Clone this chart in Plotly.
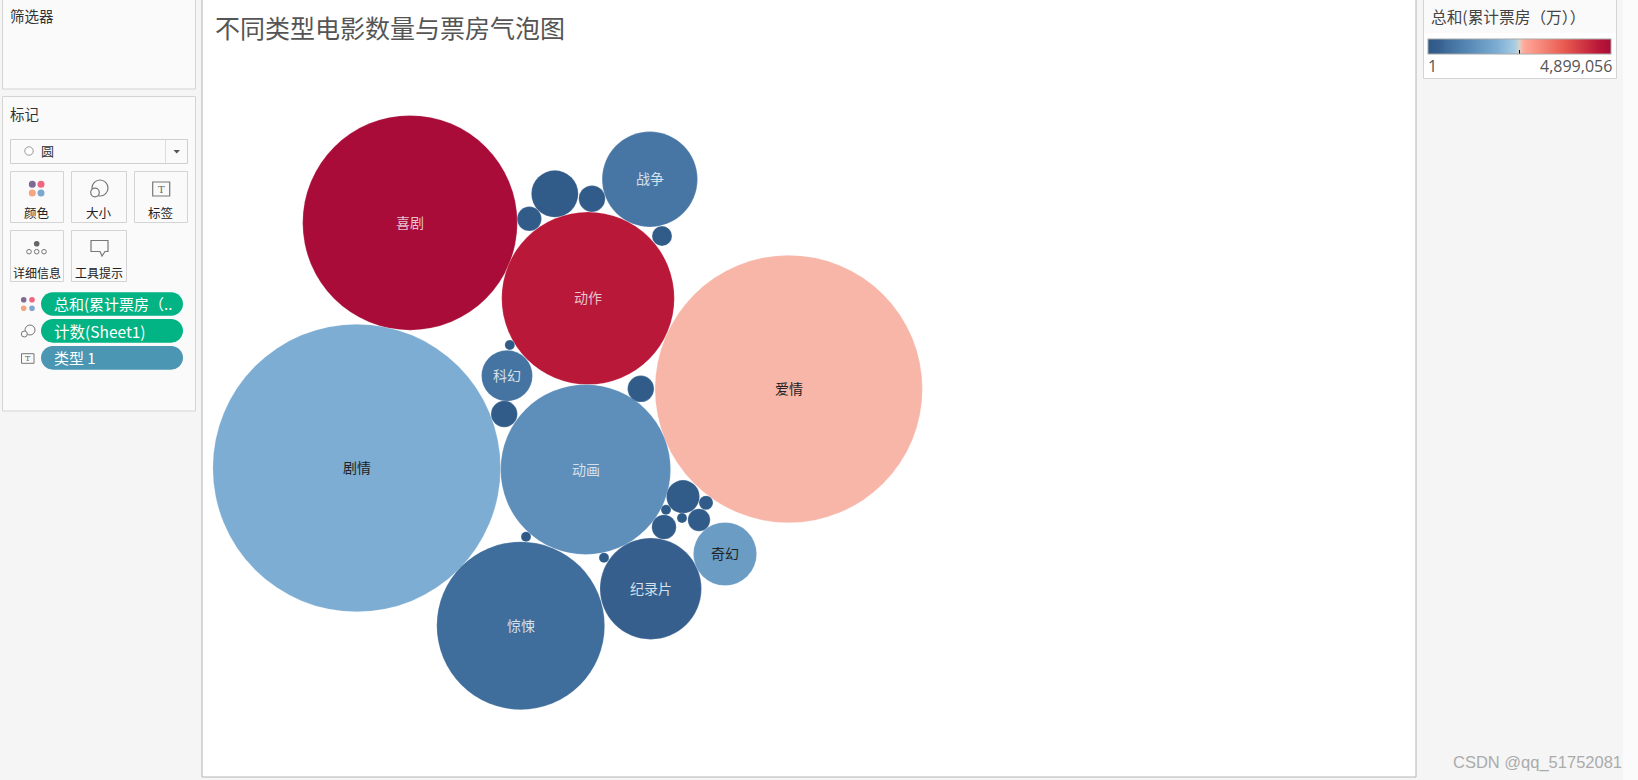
import plotly.graph_objects as go

# ---------- data ----------
genres = ["剧情", "爱情", "喜剧", "动作", "动画", "惊悚", "纪录片", "战争", "奇幻", "科幻",
          "", "", "", "", "", "", "", "", "", "", "", "", "", "", ""]
film_counts = [828, 715, 461, 298, 289, 282, 103, 91, 40, 26,
               22, 11, 7, 7, 7, 6, 6, 5, 4, 2, 1, 1, 1, 1, 1]
box_office = [1860000, 2520000, 4899056, 4550000, 1225000, 490000, 294000, 686000, 1470000, 640000,
              98000, 98000, 98000, 98000, 98000, 98000, 98000, 98000, 98000, 98000, 60000, 30000, 20000, 10000, 1]
bubble_x = [356.7, 788.7, 410.0, 588.0, 585.6, 520.7, 650.7, 649.8, 725.0, 507.0,
            554.8, 683.0, 592.0, 504.2, 640.8, 664.0, 529.3, 699.0, 662.0, 706.0, 509.8, 604.0, 526.0, 682.0, 666.0]
bubble_y = [468.0, 389.0, 222.8, 298.3, 469.5, 625.7, 588.7, 179.3, 554.0, 375.8,
            193.8, 496.7, 198.7, 414.0, 388.8, 527.0, 218.8, 520.0, 236.0, 502.8, 345.0, 557.8, 536.8, 518.0, 509.8]
label_colors = ["#222222", "#222222", "#E8C4CE", "#E8C4CE", "#D5E0EA", "#D5E0EA", "#D5E0EA", "#D5E0EA", "#222222", "#D5E0EA"]
value_min, value_max = 1, 4899056
legend_title = "总和(累计票房（万））"
chart_title = "不同类型电影数量与票房气泡图"
watermark = "CSDN @qq_51752081"

CJK = "Noto Sans CJK SC"
colorscale = [
    [0.00, "#2E5A87"], [0.06, "#365F8D"], [0.10, "#3F6E9C"], [0.14, "#4776A4"],
    [0.25, "#5E8FBB"], [0.30, "#6A9CC4"], [0.38, "#7DADD3"], [0.47, "#A5CBE3"],
    [0.50, "#D5D3CB"], [0.515, "#F9B5A8"], [0.53, "#FFA797"], [0.75, "#E8584F"],
    [0.93, "#BA1838"], [1.00, "#A90C38"],
]

shapes, annots = [], []


def rect(x0, y0, x1, y1, fill="rgba(0,0,0,0)", line="#D4D4D4", w=1):
    shapes.append(dict(type="rect", x0=x0, y0=y0, x1=x1, y1=y1, fillcolor=fill,
                       line=dict(color=line, width=w), layer="below"))


def circ(cx, cy, r, fill="rgba(0,0,0,0)", line="rgba(0,0,0,0)", w=1):
    shapes.append(dict(type="circle", x0=cx - r, y0=cy - r, x1=cx + r, y1=cy + r, fillcolor=fill,
                       line=dict(color=line, width=w), layer="below"))


def pill(x0, y0, x1, y1, fill):
    r = (y1 - y0) / 2
    k = r * 0.5523
    ym = (y0 + y1) / 2
    shapes.append(dict(type="path", fillcolor=fill, line=dict(width=0), layer="below",
                       path=(f"M{x0+r},{y0} L{x1-r},{y0} "
                             f"C{x1-r+k},{y0} {x1},{ym-k} {x1},{ym} "
                             f"C{x1},{ym+k} {x1-r+k},{y1} {x1-r},{y1} "
                             f"L{x0+r},{y1} "
                             f"C{x0+r-k},{y1} {x0},{ym+k} {x0},{ym} "
                             f"C{x0},{ym-k} {x0+r-k},{y0} {x0+r},{y0} Z")))


def text(x, y, s, size=13, color="#333333", anchor="left", family=CJK):
    annots.append(dict(x=x, y=y, text=s, showarrow=False, xanchor=anchor, yanchor="middle",
                       font=dict(family=family, size=size, color=color), xref="x", yref="y",
                       borderpad=0, borderwidth=0))


def color_dots(cx0, cx1, cy0, cy1, r):
    for cx, cy, c in [(cx0, cy0, "#7F6A93"), (cx1, cy0, "#F0657F"), (cx0, cy1, "#F4A582"), (cx1, cy1, "#7FA6D0")]:
        circ(cx, cy, r, fill=c)


# background strips and main canvas
rect(1623, -2, 1640, 782, fill="#FBFBFB", line="rgba(0,0,0,0)", w=0)
rect(202, -2, 1416, 777, fill="#FFFFFF", line="#B4B4B4", w=1)

# filter card
rect(2.5, -3, 195.5, 89, fill="#FAFAFA")
text(10, 15.5, "筛选器", 14.5)

# marks card
rect(2.5, 96.5, 195.5, 411, fill="#FAFAFA")
text(10, 113.5, "标记", 14.5)
rect(10.5, 139.5, 187.5, 163.5, fill="#FAFAFA", line="#CFCFCF")
shapes.append(dict(type="line", x0=165.5, x1=165.5, y0=140, y1=163, line=dict(color="#DDDDDD", width=1), layer="below"))
shapes.append(dict(type="path", path="M173.5,150 L180,150 L176.7,153.5 Z", fillcolor="#555555", line=dict(width=0), layer="below"))
circ(29, 151, 4.2, fill="#FFFFFF", line="#999999")
text(41, 150.5, "圆", 13)

for x0, x1, y0, y1 in [(10.5, 63.5, 171.5, 222.5), (71.5, 126.5, 171.5, 222.5), (134.5, 187.5, 171.5, 222.5),
                       (10.5, 63.5, 230.5, 281.5), (71.5, 126.5, 230.5, 281.5)]:
    rect(x0, y0, x1, y1, fill="#FAFAFA")

# button icons
color_dots(32.3, 41, 184.3, 193, 3.5)
circ(100, 188, 8, fill="#FAFAFA", line="#777777", w=1.2)
circ(95, 192.5, 4.3, fill="#FAFAFA", line="#777777", w=1.2)
rect(152.7, 182, 169.7, 196, fill="#FAFAFA", line="#777777", w=1.2)
text(161.2, 189, "T", 10, "#666666", "center", "DejaVu Serif")
circ(36.7, 243.7, 2.8, fill="#666666")
for cx in (29, 36.7, 44):
    circ(cx, 251.7, 2.3, fill="#FAFAFA", line="#777777")
shapes.append(dict(type="path", layer="below", fillcolor="#FAFAFA", line=dict(color="#777777", width=1.2),
                   path="M91,240.5 L108,240.5 L108,251.5 L105,251.5 L102,256 L100,251.5 L91,251.5 Z"))

text(37, 212.5, "颜色", 12.5, "#222222", "center")
text(99, 212.5, "大小", 12.5, "#222222", "center")
text(161, 212.5, "标签", 12.5, "#222222", "center")
text(37, 272, "详细信息", 12, "#222222", "center")
text(99, 272, "工具提示", 12, "#222222", "center")

# shelf pills
pill(41, 292.3, 183, 315.7, "#02B384")
pill(41, 319, 183, 342.7, "#02B384")
pill(41, 346, 183, 369.7, "#4A96B3")
text(54, 303.5, "总和(累计票房（..", 15, "#FFFFFF")
text(54, 330.5, "计数(Sheet1)", 15.5, "#FFFFFF")
text(54, 357.5, "类型 1", 15, "#FFFFFF")
color_dots(23.7, 32, 299.7, 308.3, 2.8)
circ(30, 330, 5, fill="#FAFAFA", line="#777777")
circ(24.3, 334, 3, fill="#FAFAFA", line="#777777")
rect(21.5, 353.7, 34, 363.3, fill="#FAFAFA", line="#777777")
text(27.7, 358.5, "T", 8, "#666666", "center", "DejaVu Serif")

# title
text(215, 27, chart_title, 25, "#555555")

# legend card
rect(1423.5, -3, 1616.5, 78.5, fill="#FAFAFA")
rect(1424, 33, 1616, 78, fill="#FFFFFF", line="rgba(0,0,0,0)", w=0)
text(1431, 16, legend_title, 15.7, "#444444")
text(1428, 65.5, f"{value_min}", 16, "#555555", "left", "Open Sans")
text(1611.5, 65.5, f"{value_max:,}", 16, "#555555", "right", "Open Sans")

# watermark
text(1622, 762, watermark, 16.5, "#ABABAB", "right", "Liberation Sans")

# bubble labels, read from the same arrays as the bubbles
for gx, gy, name, col in zip(bubble_x, bubble_y, genres, label_colors):
    annots.append(dict(x=gx, y=gy, text=name, showarrow=False, xanchor="center", yanchor="middle", yshift=1,
                       font=dict(family=CJK, size=14, color=col), xref="x", yref="y"))

fig = go.Figure(go.Scatter(
    x=bubble_x, y=bubble_y, mode="markers",
    hoverinfo="skip", cliponaxis=False,
    marker=dict(
        size=film_counts, sizemode="area", sizeref=0.02, opacity=1,
        color=box_office, cmin=value_min, cmax=value_max, colorscale=colorscale,
        line=dict(color="rgba(255,255,255,0.18)", width=1),
        colorbar=dict(
            orientation="h", thickness=15, thicknessmode="pixels",
            len=183.4, lenmode="pixels", x=1519 / 1638, xanchor="center",
            y=1 - 58.8 / 780, yanchor="bottom", xpad=0, ypad=0,
            outlinecolor="#A8A8A8", outlinewidth=1, borderwidth=0,
            tickmode="array", tickvals=[(value_min + value_max) / 2], ticktext=[""],
            ticks="inside", ticklen=4, tickcolor="#000000", tickwidth=1, showticklabels=False,
        ),
    ),
))

fig.update_layout(
    width=1638, height=780, autosize=False,
    margin=dict(l=0, r=0, t=0, b=0, pad=0),
    paper_bgcolor="#F5F5F5", plot_bgcolor="rgba(0,0,0,0)",
    showlegend=False, hovermode=False,
    xaxis=dict(range=[0, 1638], visible=False, fixedrange=True),
    yaxis=dict(range=[780, 0], visible=False, fixedrange=True),
    shapes=shapes, annotations=annots,
)

fig.write_html("out.html", config={"displayModeBar": False},
               post_script="document.body.style.margin='0';document.body.style.overflow='hidden';")
